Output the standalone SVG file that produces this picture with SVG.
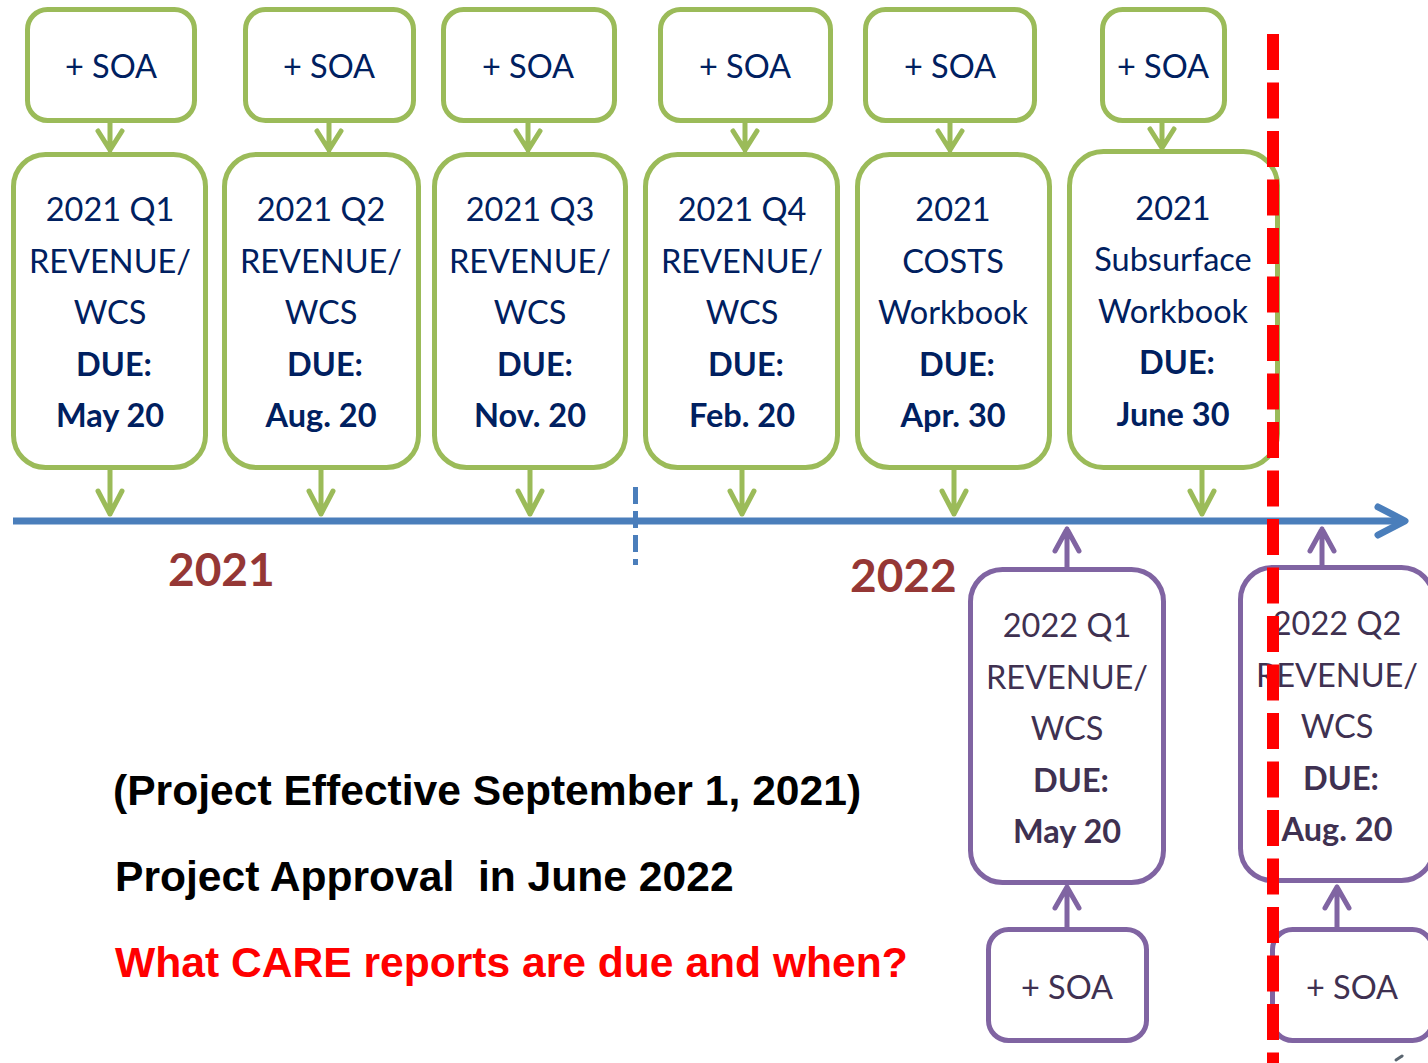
<svg xmlns="http://www.w3.org/2000/svg" width="1428" height="1063" viewBox="0 0 1428 1063">
<defs>
<style>
.g{fill:#fff;stroke:#9BBB59;stroke-width:5}
.p{fill:#fff;stroke:#8064A2;stroke-width:5}
.ga{fill:none;stroke:#9BBB59;stroke-width:5;stroke-linecap:round;stroke-linejoin:round}
.pa{fill:none;stroke:#8064A2;stroke-width:5;stroke-linecap:round;stroke-linejoin:round}
.t{font-family:Lato,"Open Sans",sans-serif;font-size:32.5px;fill:#002060;text-anchor:middle}
.tp{font-family:Lato,"Open Sans",sans-serif;font-size:32.5px;fill:#3F3151;text-anchor:middle}
.b{font-weight:bold}
.yr{font-family:Lato,sans-serif;font-weight:bold;font-size:46px;fill:#953735}
.n{font-family:"Liberation Sans",Arial,sans-serif;font-weight:bold;font-size:42.6px;fill:#000}
</style>
</defs>
<rect width="1428" height="1063" fill="#fff"/>

<g id="connectors">
<line x1="13" y1="521" x2="1403" y2="521" stroke="#4A7EBB" stroke-width="7"/>
<polyline points="1378,507 1405,521 1378,535" fill="none" stroke="#4A7EBB" stroke-width="7" stroke-linecap="round" stroke-linejoin="round"/>
<line x1="635.5" y1="487" x2="635.5" y2="565" stroke="#4A7EBB" stroke-width="5" stroke-dasharray="17,7"/>
<g class="ga">
<path d="M110,123 V150 M98,131 L110,150 L122,131"/>
<path d="M329,123 V150 M317,131 L329,150 L341,131"/>
<path d="M528,123 V150 M516,131 L528,150 L540,131"/>
<path d="M745,123 V150 M733,131 L745,150 L757,131"/>
<path d="M950,123 V150 M938,131 L950,150 L962,131"/>
<path d="M1162,123 V148 M1150,129 L1162,148 L1174,129"/>
<path d="M110,470 V514 M98,491 L110,514 L122,491"/>
<path d="M321,470 V514 M309,491 L321,514 L333,491"/>
<path d="M530,470 V514 M518,491 L530,514 L542,491"/>
<path d="M742,470 V514 M730,491 L742,514 L754,491"/>
<path d="M954,470 V514 M942,491 L954,514 L966,491"/>
<path d="M1202,470 V514 M1190,491 L1202,514 L1214,491"/>
</g>
<g class="pa">
<path d="M1067,567 V529 M1055,551 L1067,529 L1079,551"/>
<path d="M1322,565 V529 M1310,551 L1322,529 L1334,551"/>
<path d="M1067,927 V887 M1055,908 L1067,887 L1079,908"/>
<path d="M1337,927 V887 M1325,908 L1337,887 L1349,908"/>
</g>
</g>

<g id="soa1"><rect class="g" x="27.5" y="9.5" width="167" height="111" rx="20"/><text class="t" x="111" y="78">+ SOA</text></g>
<g id="soa2"><rect class="g" x="245.5" y="9.5" width="168" height="111" rx="20"/><text class="t" x="329" y="78">+ SOA</text></g>
<g id="soa3"><rect class="g" x="443.5" y="9.5" width="171" height="111" rx="20"/><text class="t" x="528" y="78">+ SOA</text></g>
<g id="soa4"><rect class="g" x="660.5" y="9.5" width="170" height="111" rx="20"/><text class="t" x="745" y="78">+ SOA</text></g>
<g id="soa5"><rect class="g" x="865.5" y="9.5" width="169" height="111" rx="20"/><text class="t" x="950" y="78">+ SOA</text></g>
<g id="soa6"><rect class="g" x="1102.5" y="9.5" width="122" height="111" rx="20"/><text class="t" x="1163" y="78">+ SOA</text></g>

<g id="q1"><rect class="g" x="13.5" y="154.5" width="192" height="313" rx="32"/>
<text class="t" x="110" y="221">2021 Q1</text><text class="t" x="110" y="273">REVENUE/</text><text class="t" x="110" y="324">WCS</text><text class="t b" x="114" y="376">DUE:</text><text class="t b" x="110" y="427">May 20</text></g>
<g id="q2"><rect class="g" x="224.5" y="154.5" width="194" height="313" rx="32"/>
<text class="t" x="321" y="221">2021 Q2</text><text class="t" x="321" y="273">REVENUE/</text><text class="t" x="321" y="324">WCS</text><text class="t b" x="325" y="376">DUE:</text><text class="t b" x="321" y="427">Aug. 20</text></g>
<g id="q3"><rect class="g" x="434.5" y="154.5" width="191" height="313" rx="32"/>
<text class="t" x="530" y="221">2021 Q3</text><text class="t" x="530" y="273">REVENUE/</text><text class="t" x="530" y="324">WCS</text><text class="t b" x="535" y="376">DUE:</text><text class="t b" x="530" y="427">Nov. 20</text></g>
<g id="q4"><rect class="g" x="645.5" y="154.5" width="192" height="313" rx="32"/>
<text class="t" x="742" y="221">2021 Q4</text><text class="t" x="742" y="273">REVENUE/</text><text class="t" x="742" y="324">WCS</text><text class="t b" x="746" y="376">DUE:</text><text class="t b" x="742" y="427">Feb. 20</text></g>
<g id="costs"><rect class="g" x="857.5" y="154.5" width="192" height="313" rx="32"/>
<text class="t" x="953" y="221">2021</text><text class="t" x="953" y="273">COSTS</text><text class="t" x="953" y="324">Workbook</text><text class="t b" x="957" y="376">DUE:</text><text class="t b" x="953" y="427">Apr. 30</text></g>
<g id="subsurface"><rect class="g" x="1069.5" y="151.5" width="208" height="316" rx="34"/>
<text class="t" x="1173" y="220">2021</text><text class="t" x="1173" y="271">Subsurface</text><text class="t" x="1173" y="323">Workbook</text><text class="t b" x="1177" y="374">DUE:</text><text class="t b" x="1173" y="426">June 30</text></g>

<text class="yr" x="168" y="586">2021</text>
<text class="yr" x="850" y="592">2022</text>

<g id="q1-2022"><rect class="p" x="970.5" y="569.5" width="193" height="313" rx="32"/>
<text class="tp" x="1067" y="637">2022 Q1</text><text class="tp" x="1067" y="689">REVENUE/</text><text class="tp" x="1067" y="740">WCS</text><text class="tp b" x="1071" y="792">DUE:</text><text class="tp b" x="1067" y="843">May 20</text></g>
<g id="q2-2022"><rect class="p" x="1240.5" y="567.5" width="193" height="313" rx="32"/>
<text class="tp" x="1337" y="635">2022 Q2</text><text class="tp" x="1337" y="687">REVENUE/</text><text class="tp" x="1337" y="738">WCS</text><text class="tp b" x="1341" y="790">DUE:</text><text class="tp b" x="1337" y="841">Aug. 20</text></g>
<g id="soa-q1-2022"><rect class="p" x="988.5" y="929.5" width="158" height="111" rx="20"/><text class="tp" x="1067" y="999">+ SOA</text></g>
<g id="soa-q2-2022"><rect class="p" x="1272.5" y="929.5" width="160" height="111" rx="20"/><text class="tp" x="1352" y="999">+ SOA</text></g>

<line x1="1273" y1="34" x2="1273" y2="1063" stroke="#FF0000" stroke-width="12" stroke-dasharray="36,12.5"/>
<path d="M1396,1060 L1402,1056" stroke="#5A6570" stroke-width="3" stroke-linecap="round"/>

<text class="n" x="113" y="805">(Project Effective September 1, 2021)</text>
<text class="n" x="115" y="891" xml:space="preserve">Project Approval  in June 2022</text>
<text class="n" x="115" y="977" style="fill:#FF0000">What CARE reports are due and when?</text>
</svg>
